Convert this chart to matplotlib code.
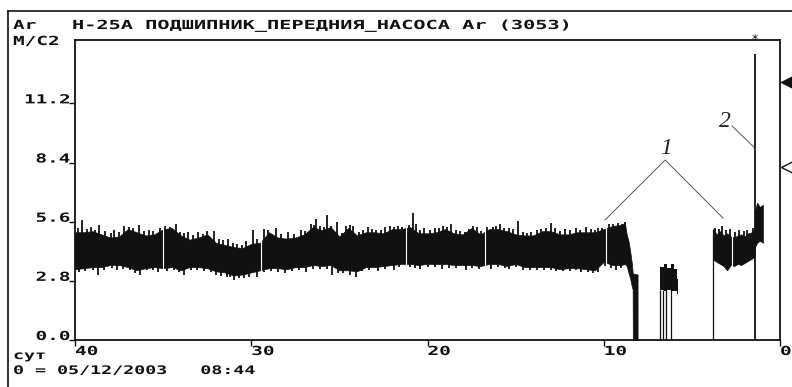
import matplotlib
matplotlib.use("Agg")
import matplotlib.pyplot as plt
from matplotlib.patheffects import AbstractPathEffect
from matplotlib.transforms import Affine2D, blended_transform_factory
from matplotlib.lines import Line2D

# ------------ DATA ------------
x_ticks = [40, 30, 20, 10, 0]
y_ticks = [0.0, 2.8, 5.6, 8.4, 11.2]
y_tick_labels = ["0.0", "2.8", "5.6", "8.4", "11.2"]

# main stretch of the trend: upper / lower edge of the black band
band_day = [40.0, 39.5, 39.0, 38.5, 38.0, 37.5, 37.0, 36.5, 36.0, 35.5,
            35.0, 34.5, 34.0, 33.5, 33.0, 32.5, 32.0, 31.5, 31.0, 30.5,
            30.0, 29.5, 29.0, 28.5, 28.0, 27.5, 27.0, 26.5, 26.0, 25.5,
            25.0, 24.5, 24.0, 23.5, 23.0, 22.5, 22.0, 21.5, 21.0, 20.5,
            20.0, 19.5, 19.0, 18.5, 18.0, 17.5, 17.0, 16.5, 16.0, 15.5,
            15.0, 14.5, 14.0, 13.5, 13.0, 12.5, 12.0, 11.5, 11.0, 10.5,
            10.0, 9.5, 9.0, 8.8, 8.7, 8.6, 8.5, 8.4, 8.36, 8.35, 8.08]
band_hi = [5.1, 5.1, 5.15, 5.0, 4.85, 4.9, 5.25, 5.1, 4.95, 5.0,
           5.25, 5.3, 4.95, 4.75, 4.85, 5.0, 4.6, 4.5, 4.4, 4.35,
           4.55, 4.6, 5.1, 4.85, 4.8, 4.85, 5.0, 5.35, 5.2, 5.35,
           4.9, 5.3, 4.95, 5.1, 5.1, 5.05, 5.25, 5.25, 5.35, 5.05,
           5.05, 5.1, 5.25, 5.05, 5.0, 5.3, 5.0, 5.25, 5.25, 5.15,
           5.0, 4.95, 4.95, 5.15, 5.15, 5.0, 5.0, 5.1, 5.1, 5.1,
           5.25, 5.4, 5.45, 5.55, 5.0, 4.7, 4.2, 3.6, 3.2, 3.15, 3.1]
band_lo = [3.35, 3.4, 3.45, 3.45, 3.55, 3.55, 3.45, 3.3, 3.4, 3.45,
           3.4, 3.45, 3.3, 3.45, 3.45, 3.4, 3.25, 3.2, 3.05, 3.1,
           3.2, 3.3, 3.4, 3.4, 3.35, 3.45, 3.45, 3.55, 3.5, 3.55,
           3.3, 3.3, 3.25, 3.45, 3.45, 3.5, 3.55, 3.6, 3.6, 3.55,
           3.6, 3.6, 3.6, 3.55, 3.55, 3.55, 3.5, 3.6, 3.6, 3.5,
           3.6, 3.45, 3.45, 3.45, 3.45, 3.35, 3.4, 3.4, 3.35, 3.3,
           3.7, 3.55, 3.55, 3.6, 3.5, 3.2, 2.9, 2.5, 2.4, 0.0, 0.0]

# single peaks sticking out of the top of the band
spike_day = [39.85, 39.58, 39.3, 39.1, 38.85, 38.64, 38.3, 37.95, 37.8, 37.5,
             37.2, 36.95, 36.7, 36.36, 36.1, 35.8, 35.55, 35.2, 34.9, 34.6,
             34.28, 34.05, 33.8, 33.6, 33.3, 33.0, 32.75, 32.5, 32.1, 31.85,
             31.6, 31.3, 31.05, 30.8, 30.55, 30.3, 29.9, 29.65, 29.3, 29.05,
             28.8, 28.6, 28.3, 27.9, 27.6, 27.2, 26.95, 26.6, 26.45, 26.3,
             26.1, 25.9, 25.7, 25.45, 25.15, 24.85, 24.6, 24.4, 24.2, 23.9,
             23.65, 23.4, 23.15, 22.9, 22.65, 22.4, 22.15, 21.9, 21.7, 21.45,
             21.05, 20.83, 20.65, 20.4, 20.2, 19.85, 19.6, 19.35, 19.1, 18.9,
             18.66, 18.4, 18.15, 17.9, 17.65, 17.4, 17.2, 16.95, 16.6, 16.3,
             16.1, 15.9, 15.65, 15.4, 15.15, 14.87, 14.6, 14.35, 14.1, 13.8,
             13.55, 13.3, 12.98, 12.75, 12.5, 12.2, 11.9, 11.6, 11.35, 11.0,
             10.75, 10.5, 10.3, 10.1, 9.7, 9.45, 9.2, 8.95, 8.81]
spike_top = [5.3, 5.66, 5.25, 5.35, 5.2, 5.43, 5.15, 5.05, 5.2, 5.1,
             5.4, 5.35, 5.3, 5.43, 5.15, 5.2, 5.15, 5.3, 5.4, 5.35,
             5.51, 5.1, 5.05, 5.1, 4.95, 5.1, 5.0, 5.15, 5.15, 4.8,
             4.75, 4.8, 4.6, 4.55, 4.5, 4.7, 5.2, 4.8, 5.25, 5.2,
             5.0, 5.3, 5.0, 5.1, 5.0, 5.2, 5.15, 5.5, 5.45, 5.75,
             5.4, 5.35, 5.9, 5.4, 5.6, 5.05, 5.4, 5.45, 5.4, 5.1,
             5.2, 5.35, 5.25, 5.2, 5.2, 5.35, 5.4, 5.35, 5.4, 5.35,
             5.45, 6.0, 5.5, 5.2, 5.3, 5.2, 5.3, 5.3, 5.4, 5.35,
             5.5, 5.2, 5.15, 5.1, 5.25, 5.4, 5.35, 5.15, 5.35, 5.35,
             5.4, 5.5, 5.3, 5.3, 5.25, 5.62, 5.1, 5.05, 5.1, 5.2,
             5.25, 5.3, 5.55, 5.3, 5.15, 5.25, 5.2, 5.3, 5.2, 5.35,
             5.25, 5.2, 5.3, 5.3, 5.5, 5.5, 5.55, 5.5, 5.6]
# single dips below the band
dip_day = [39.8, 39.45, 39.0, 38.7, 38.35, 37.9, 37.6, 37.3, 36.9, 36.6,
           36.3, 35.9, 35.6, 35.3, 34.8, 34.4, 34.1, 33.8, 33.4, 33.1,
           32.7, 32.3, 32.0, 31.7, 31.4, 31.2, 30.97, 30.7, 30.4, 30.1,
           29.7, 29.3, 28.9, 28.5, 28.1, 27.7, 27.3, 26.9, 26.5, 26.1,
           25.7, 25.4, 25.1, 24.8, 24.4, 24.05, 23.7, 23.3, 22.8, 22.4,
           21.9, 21.6, 21.0, 20.7, 20.4, 20.0, 19.6, 19.2, 18.8, 18.4,
           17.8, 17.5, 17.1, 16.4, 16.0, 15.6, 15.35, 15.0, 14.6, 14.2,
           13.8, 13.4, 13.0, 12.7, 12.3, 11.9, 11.6, 11.3, 10.9, 10.6,
           10.3, 9.95, 9.6, 9.3, 9.0]
dip_bot = [3.2, 3.25, 3.3, 3.07, 3.3, 3.4, 3.3, 3.35, 3.3, 3.15,
           3.1, 3.3, 3.3, 3.2, 3.25, 3.3, 3.2, 3.1, 3.3, 3.3,
           3.25, 3.2, 3.1, 3.05, 3.0, 3.0, 2.83, 2.95, 2.95, 3.0,
           3.0, 3.2, 3.25, 3.2, 3.15, 3.25, 3.3, 3.2, 3.35, 3.35,
           3.35, 3.1, 3.15, 3.15, 3.1, 3.0, 3.25, 3.3, 3.25, 3.35,
           3.3, 3.45, 3.45, 3.4, 3.35, 3.45, 3.45, 3.35, 3.4, 3.4,
           3.3, 3.4, 3.35, 3.35, 3.45, 3.4, 3.35, 3.45, 3.3, 3.3,
           3.3, 3.3, 3.3, 3.25, 3.25, 3.25, 3.3, 3.2, 3.2, 3.15,
           3.2, 3.5, 3.4, 3.3, 3.4]
gap_day = [35.0, 29.45, 21.2, 16.75, 9.85, 2.74]

# short burst after the pump stopped
clus_day = [6.82, 6.6, 6.4, 6.2, 6.0, 5.85, 5.8]
clus_hi = [3.45, 3.6, 3.4, 3.6, 3.35, 2.9, 2.9]
clus_lo = [2.35, 2.3, 2.35, 2.3, 2.3, 2.2, 2.2]
clus_drop = [6.82, 6.63, 6.44, 6.19]

# restart
rest_day = [3.79, 3.6, 3.4, 3.2, 3.0, 2.8, 2.6, 2.4, 2.2, 2.0, 1.8, 1.6, 1.42]
rest_hi = [5.25, 5.0, 5.15, 4.95, 5.05, 4.9, 4.85, 4.95, 5.0, 4.9, 5.05, 5.1, 5.25]
rest_lo = [3.8, 3.7, 3.6, 3.5, 3.3, 3.55, 3.5, 3.6, 3.55, 3.65, 3.75, 3.85, 3.95]
rest_spike_day = [3.7, 3.45, 3.3, 3.05, 2.85, 2.55, 2.3, 2.05, 1.85, 1.55]
rest_spike_top = [5.3, 5.25, 5.4, 5.2, 5.25, 5.1, 5.2, 5.15, 5.2, 5.3]

peak_day = 1.42
peak_val = 13.55
tail_day = [1.42, 1.3, 1.15, 0.97]
tail_hi = [6.1, 6.5, 6.3, 6.4]
tail_lo = [4.4, 4.6, 4.7, 4.6]

alarm_hi = 12.2
alarm_warn = 8.2

# ------------------------------------

W, H = 792, 387
ink = "#111111"


class Wide(AbstractPathEffect):
    """stretch glyphs sideways, the old screen font is much wider than any mono font"""
    def __init__(self, sx=1.55, right=False):
        super().__init__()
        self.sx = sx
        self.right = right

    def draw_path(self, renderer, gc, tpath, affine, rgbFace=None):
        x0 = tpath.vertices[:, 0].max() if self.right else 0.0
        st = Affine2D().translate(-x0, 0).scale(self.sx, 1).translate(x0, 0)
        renderer.draw_path(gc, tpath, st + affine, rgbFace)


MONO = dict(family="DejaVu Sans Mono", weight="bold", size=9, color=ink)


def screen_text(x, y, s, ha="left", transform=None, size=9, sx=1.55):
    tr = transform if transform is not None else fig.transFigure
    if transform is None:
        x, y = x / W, 1 - y / H
    props = dict(MONO, size=size)
    fig.text(x, y, s, ha=ha, va="baseline", transform=tr,
             path_effects=[Wide(sx, right=(ha == "right"))], **props)


fig = plt.figure(figsize=(W / 100, H / 100), dpi=100)
ax = fig.add_axes([75 / W, 1 - 340 / H, 705 / W, 300 / H])
ax.set_xlim(40, 0)
ax.set_ylim(0, 14.2)

ax.fill_between(band_day, band_lo, band_hi, color=ink, lw=0.5, edgecolor=ink)
ax.vlines(spike_day, 4.2, spike_top, color=ink, lw=1.3)
ax.vlines(dip_day, dip_bot, 4.2, color=ink, lw=1.3)

ax.fill_between(clus_day, clus_lo, clus_hi, step="post", color=ink, lw=0)
ax.vlines(clus_drop, 0, clus_lo[0], color=ink, lw=0.9)

ax.fill_between(rest_day, rest_lo, rest_hi, color=ink, lw=0.5, edgecolor=ink)
ax.vlines(rest_spike_day, 4.3, rest_spike_top, color=ink, lw=1.3)
ax.vlines(rest_day[0], 0, rest_hi[0], color=ink, lw=0.9)
ax.vlines(peak_day, 0, peak_val, color=ink, lw=1.3)
ax.fill_between(tail_day, tail_lo, tail_hi, color=ink, lw=0.5, edgecolor=ink)

ax.vlines(gap_day, 2.85, 5.45, color="white", lw=0.8, zorder=3)

# alarm level markers on the right edge
ax.plot([-0.42], [alarm_hi], marker="<", ms=8, color=ink, clip_on=False)
ax.plot([-0.42], [alarm_warn], marker="<", ms=8, mfc="white", mec=ink, mew=1, clip_on=False)
ax.text(peak_day, 1.0, "*", transform=blended_transform_factory(ax.transData, ax.transAxes),
        ha="center", va="center", fontsize=9, color=ink, clip_on=False)

# hand drawn callouts
ax.plot([9.93, 6.52, 3.23], [5.68, 8.52, 5.77], color="#555555", lw=0.7)
ax.plot([2.72, 1.48], [10.13, 9.13], color="#555555", lw=0.7)
ax.text(6.45, 9.05, "1", ha="center", va="center", family="Liberation Serif",
        style="italic", fontsize=17, color="#222222")
ax.text(3.1, 10.35, "2", ha="center", va="center", family="Liberation Serif",
        style="italic", fontsize=17, color="#222222")

ax.set_xticks(x_ticks)
ax.set_yticks(y_ticks)
ax.tick_params(labelbottom=False, labelleft=False, direction="out", length=4,
               width=1, color=ink)
for s in ax.spines.values():
    s.set_linewidth(1.3)
    s.set_color(ink)

ylab_tr = blended_transform_factory(ax.transAxes, ax.transData)
for v, lab in zip(y_ticks, y_tick_labels):
    screen_text(-5 / 705, v, lab, ha="right", transform=ylab_tr)
xlab_tr = blended_transform_factory(ax.transData, ax.transAxes)
for d in x_ticks:
    screen_text(d, -15 / 300, str(d), transform=xlab_tr)

screen_text(13, 29, "Ar")
screen_text(13, 45, "М/С2")
screen_text(72, 29, "Н-25А ПОДШИПНИК_ПЕРЕДНИЯ_НАСОСА Ar (3053)", sx=1.62)
screen_text(13, 359, "сут", size=8.5)
screen_text(13, 374, "0 = 05/12/2003   08:44", size=8.5)

# outer screen frame
fig.add_artist(Line2D([8 / W, 8 / W], [0, 1 - 11 / H], color=ink, lw=1.2))
fig.add_artist(Line2D([8 / W, 1], [1 - 11 / H, 1 - 11 / H], color=ink, lw=1.2))

fig.savefig("out.png", dpi=100, facecolor="white")
